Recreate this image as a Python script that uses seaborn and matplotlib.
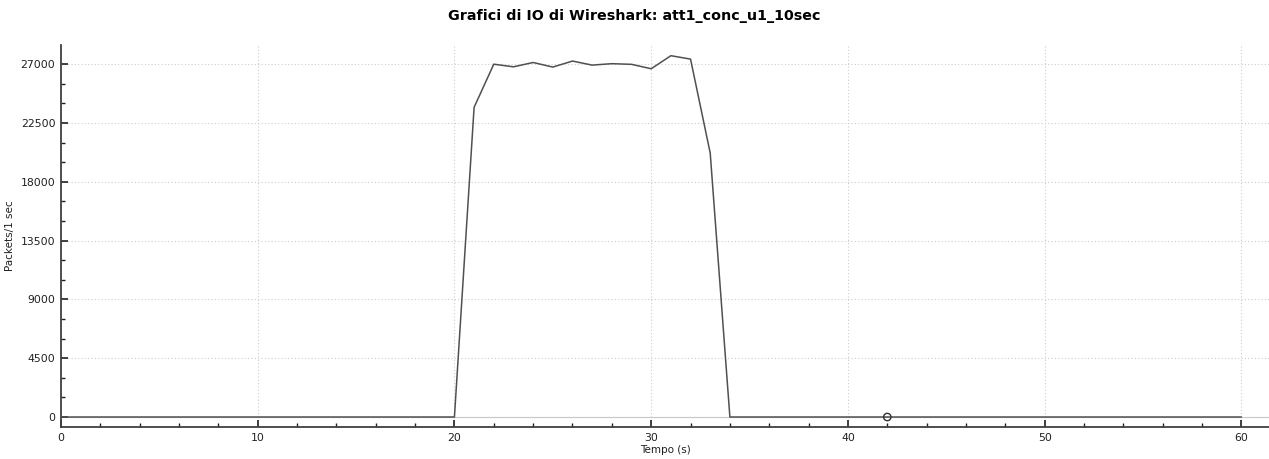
import matplotlib
matplotlib.use("Agg")
import matplotlib.pyplot as plt
from matplotlib.ticker import MultipleLocator
import seaborn as sns
import pandas as pd
import numpy as np

sns.set_style("white")
plt.rcParams['font.family'] = ['DejaVu Sans']

# Data
times = list(range(0, 61))
active_times = [21, 22, 23, 24, 25, 26, 27, 28, 29, 30, 31, 32, 33]
active_values = [23700, 27000, 26800, 27130, 26780, 27240, 26930, 27040, 26990, 26650, 27650, 27390, 20200]
marker_time = [42]
marker_value = [0]

title = "Grafici di IO di Wireshark: att1_conc_u1_10sec"
xlabel = "Tempo (s)"
ylabel = "Packets/1 sec"
yticks = [0, 4500, 9000, 13500, 18000, 22500, 27000]
xticks = [0, 10, 20, 30, 40, 50, 60]

values = [active_values[active_times.index(t)] if t in active_times else 0 for t in times]
df = pd.DataFrame({"t": times, "v": values})

fig = plt.figure(figsize=(12.69, 4.59), dpi=100)
ax = fig.add_axes([0.048, 0.0697, 0.952, 0.832])

ax.set_xlim(0, 61.4)
ax.set_ylim(-765, 28460)

# grid
for y in yticks:
    ax.axhline(y, color="#cccccc", lw=0.8, ls=(0, (1, 2)), zorder=0)
for x in xticks[1:]:
    ax.axvline(x, color="#cccccc", lw=0.8, ls=(0, (1, 2)), zorder=0)
ax.axhline(0, xmin=0, xmax=1, color="#c8c8c8", lw=0.8, zorder=0)

sns.lineplot(data=df, x="t", y="v", ax=ax, color="#505050", lw=1.1, zorder=3)
sns.scatterplot(x=marker_time, y=marker_value, ax=ax, s=28, facecolor="none",
                edgecolor="#303030", linewidth=1.0, zorder=4)

ax.set_xticks(xticks)
ax.set_yticks(yticks)
ax.xaxis.set_minor_locator(MultipleLocator(2))
ax.yaxis.set_minor_locator(MultipleLocator(1500))
ax.tick_params(axis="both", which="major", direction="in", length=5, width=1.2,
               color="#202020", labelsize=7.8, labelcolor="#202020", pad=4)
ax.tick_params(axis="both", which="minor", direction="in", length=3, width=1,
               color="#202020")
ax.tick_params(axis="x", which="both", bottom=True)
ax.tick_params(axis="y", which="both", left=True)

for s in ["top", "right"]:
    ax.spines[s].set_visible(False)
for s in ["left", "bottom"]:
    ax.spines[s].set_color("#404040")
    ax.spines[s].set_linewidth(1.3)

ax.set_xlabel(xlabel, fontsize=7.5, color="#202020", labelpad=2)
ax.set_ylabel(ylabel, fontsize=7.5, color="#202020", labelpad=4)
fig.suptitle(title, fontsize=10.3, fontweight="bold", color="black", y=0.98)

fig.savefig("out.png", dpi=100)
